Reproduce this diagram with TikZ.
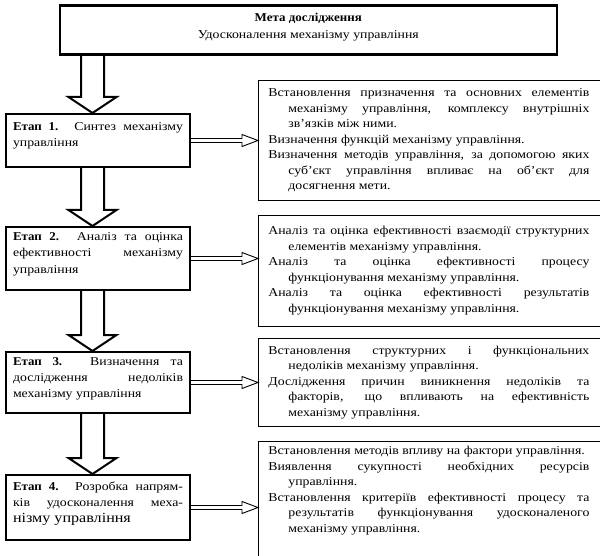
\documentclass[tikz,border=0pt]{standalone}
\usepackage{fontspec}
\setmainfont{Liberation Serif}[FakeStretch=1.15, BoldFeatures={FakeStretch=1.08}]
\usetikzlibrary{positioning,calc}

% item with hanging indent
\newcommand{\punkt}[1]{\noindent\hangindent=20pt\hangafter=1\rightskip=14pt #1\par}
% extra depth below last line
\newcommand{\unten}[1]{\rule[-#1]{0pt}{#1}}
% hollow block arrows
\newcommand{\blockdown}[2]{%
  \coordinate (tip) at ($(#2.north west)+(87.5,0)$);
  \coordinate (top) at (tip |- #1.south);
  \draw[hollow] ($(top)+(-11.5,0)$) -- ($(tip)+(-11.5,16)$) -- ($(tip)+(-24,16)$) -- (tip)
    -- ($(tip)+(24,16)$) -- ($(tip)+(11.5,16)$) -- ($(top)+(11.5,0)$);}
\newcommand{\blockright}[2]{%
  \coordinate (beg) at (#1.east);
  \coordinate (end) at (#1.east -| #2.west);
  \draw[hollowthin] ($(beg)+(0,2)$) -- ($(end)+(-16,2)$) -- ($(end)+(-16,6)$) -- (end)
    -- ($(end)+(-16,-6)$) -- ($(end)+(-16,-2)$) -- ($(beg)+(0,-2)$);}

\begin{document}
\begin{tikzpicture}[x=1pt, y=1pt, font=\fontsize{12pt}{15.5pt}\selectfont,
  goalbox/.style={draw, line width=2.6pt, align=center, minimum width=497pt, minimum height=49pt, font=\fontsize{12pt}{17pt}\selectfont},
  stagebox/.style={draw, line width=2pt, text width=170pt, inner xsep=7pt, align=justify, minimum height=#1, font=\fontsize{12pt}{16.2pt}\selectfont},
  taskbox/.style={draw, line width=0.8pt, text width=335pt, inner xsep=10pt, align=justify, minimum height=#1},
  hollow/.style={line width=2pt, line join=miter},
  hollowthin/.style={line width=0.9pt}]
\useasboundingbox (0,0) rectangle (600,-556);

\node[goalbox, anchor=north west] (meta) at (58.5,-4.5) {\textbf{Мета дослідження}\\Удосконалення механізму управління\unten{9pt}};

\node[stagebox=53pt, anchor=north west] (etap1) at (5,-113) {\textbf{Етап 1.} Синтез механізму\linebreak управління\unten{12pt}};
\node[stagebox=63pt, below=58pt of etap1] (etap2) {\textbf{Етап 2.} Аналіз та оцінка\linebreak ефективності механізму\linebreak управління\unten{11pt}};
\node[stagebox=61pt, below=60pt of etap2] (etap3) {\textbf{Етап 3.} Визначення та\linebreak дослідження недоліків\linebreak механізму управління\unten{10pt}};
\node[stagebox=65pt, below=60pt of etap3] (etap4) {\textbf{Етап 4.} Розробка напрям-\linebreak ків удосконалення меха-\linebreak {\fontsize{14pt}{17pt}\selectfont нізму управління}\unten{11pt}};

\node[taskbox=120pt, right=67pt of etap1] (opys1) {%
\punkt{Встановлення призначення та основних елементів\linebreak механізму управління, комплексу внутрішніх\linebreak зв’язків між ними.}
\punkt{Визначення функцій механізму управління.}
\punkt{Визначення методів управління, за допомогою яких\linebreak суб’єкт управління впливає на об’єкт для\linebreak досягнення мети.}};
\node[taskbox=111pt, right=67pt of etap2, yshift=-12pt] (opys2) {%
\punkt{Аналіз та оцінка ефективності взаємодії структурних\linebreak елементів механізму управління.}
\punkt{Аналіз та оцінка ефективності процесу\linebreak функціонування механізму управління.}
\punkt{Аналіз та оцінка ефективності результатів\linebreak функціонування механізму управління.}};
\node[taskbox=88pt, right=67pt of etap3] (opys3) {%
\punkt{Встановлення структурних і функціональних\linebreak недоліків механізму управління.}
\punkt{Дослідження причин виникнення недоліків та\linebreak факторів, що впливають на ефективність\linebreak механізму управління.}};
\node[taskbox=121pt, right=67pt of etap4, yshift=6pt] (opys4) {%
\punkt{Встановлення методів впливу на фактори управління.}
\punkt{Виявлення сукупності необхідних ресурсів\linebreak управління.}
\punkt{Встановлення критеріїв ефективності процесу та\linebreak результатів функціонування удосконаленого\linebreak механізму управління.\unten{24pt}}};

\blockdown{meta}{etap1}
\blockdown{etap1}{etap2}
\blockdown{etap2}{etap3}
\blockdown{etap3}{etap4}

\blockright{etap1}{opys1}
\blockright{etap2}{opys2}
\blockright{etap3}{opys3}
\blockright{etap4}{opys4}
\end{tikzpicture}
\end{document}
